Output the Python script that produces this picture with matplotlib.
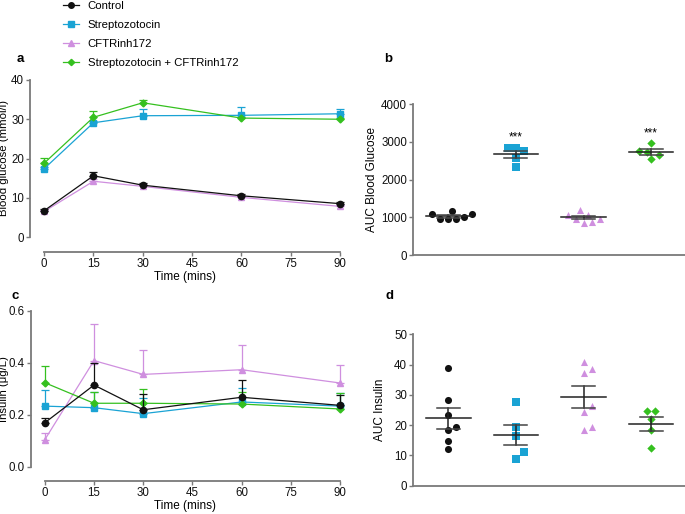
import numpy as np
import matplotlib
matplotlib.use("Agg")
import matplotlib.pyplot as plt
from matplotlib.lines import Line2D

plt.rcParams['font.family'] = ['Liberation Sans', 'DejaVu Sans']
plt.rcParams['font.size'] = 8

# ---- data ----
groups = ['Control', 'Streptozotocin', 'CFTRinh172', 'Streptozotocin + CFTRinh172']
colors = ['#111111', '#1aa3d4', '#cf8fdf', '#35c01f']
markers = ['o', 's', '^', 'D']

times = [0, 15, 30, 60, 90]

glucose_mean = [
    [6.7, 15.6, 13.2, 10.5, 8.5],
    [17.4, 29.1, 30.9, 31.0, 31.4],
    [6.5, 14.2, 12.9, 10.1, 7.8],
    [18.8, 30.5, 34.2, 30.3, 30.0],
]
glucose_sem = [
    [0.4, 0.9, 0.6, 0.5, 0.4],
    [0.5, 0.5, 1.8, 2.2, 1.3],
    [0.4, 0.5, 0.6, 0.5, 0.4],
    [1.4, 1.7, 0.7, 0.4, 0.3],
]

insulin_mean = [
    [0.169, 0.314, 0.219, 0.267, 0.236],
    [0.233, 0.227, 0.204, 0.249, 0.233],
    [0.104, 0.408, 0.355, 0.373, 0.322],
    [0.323, 0.244, 0.244, 0.241, 0.222],
]
insulin_sem = [
    [0.017, 0.085, 0.060, 0.067, 0.040],
    [0.062, 0.060, 0.060, 0.055, 0.050],
    [0.027, 0.140, 0.092, 0.095, 0.068],
    [0.063, 0.043, 0.056, 0.045, 0.060],
]

auc_glucose = [
    [1090, 950, 950, 1160, 950, 1000, 1090],
    [2840, 2750, 2850, 2570, 2330],
    [1070, 955, 860, 1190, 885, 945, 1070],
    [2735, 2550, 2980, 2650, 2770],
]
auc_insulin = [
    [38.9, 28.3, 23.2, 18.5, 19.5, 14.9, 12.2],
    [27.5, 19.5, 16.5, 11.1, 8.9],
    [41.0, 37.3, 38.5, 26.3, 24.5, 18.3, 19.5],
    [24.8, 24.6, 22.0, 18.3, 12.3],
]
signif = ['', '***', '', '***']

W, H = 685, 514
fig = plt.figure(figsize=(W / 100, H / 100), dpi=100)


def px_axes(l, t, r, b):
    return fig.add_axes([l / W, 1 - b / H, (r - l) / W, (b - t) / H])


axis_grey = '#7a7a7a'


def style(ax):
    for s in ['top', 'right']:
        ax.spines[s].set_visible(False)
    for s in ['left', 'bottom']:
        ax.spines[s].set_color(axis_grey)
        ax.spines[s].set_linewidth(1.3)
    ax.tick_params(colors=axis_grey, labelcolor='#111111', width=1.0, length=3,
                   labelsize=8.3, pad=1.2)


def time_panel(ax, means, sems, ymax, yticks, ylabel, fmt, offset_px, label_x):
    for i in range(4):
        m = np.array(means[i])
        e = np.array(sems[i])
        ax.errorbar(times, m, yerr=[np.zeros_like(e), e], color=colors[i],
                    marker=markers[i], markersize=4.5 if markers[i] != 'D' else 3.5,
                    lw=0.9, elinewidth=0.9, capsize=3, capthick=0.9, clip_on=False,
                    zorder=3 + (i == 0))
    ax.set_xlim(-4.3, 90)
    ax.set_ylim(0, ymax)
    ax.set_xticks([0, 15, 30, 45, 60, 75, 90])
    ax.set_yticks(yticks)
    ax.set_yticklabels([fmt % v for v in yticks])
    ax.spines['bottom'].set_position(('outward', offset_px * 0.72))
    ax.spines['bottom'].set_bounds(0, 90)
    ax.spines['left'].set_bounds(0, ymax)
    ax.set_xlabel('Time (mins)', fontsize=8.5, labelpad=1)
    ax.set_ylabel(ylabel, fontsize=8.2)
    ax.yaxis.set_label_coords(label_x, 0.5)


def swarm(ax, vals, center, diam_px):
    # simple beeswarm in pixel space
    to_px = ax.transData
    ypx = [to_px.transform((0, v))[1] for v in vals]
    xunit = to_px.transform((1, 0))[0] - to_px.transform((0, 0))[0]
    placed = []
    xs = [0.0] * len(vals)
    order = np.argsort(ypx)
    for k in order:
        y = ypx[k]
        for n in range(0, 20):
            cands = [0.0] if n == 0 else [n * diam_px * 0.5, -n * diam_px * 0.5]
            ok = None
            for c in cands:
                if all((c - px) ** 2 + (y - py) ** 2 >= diam_px ** 2 for px, py in placed):
                    ok = c
                    break
            if ok is not None:
                placed.append((ok, y))
                xs[k] = center + ok / xunit
                break
    return xs


def auc_panel(ax, data, ymax, yticks, ylabel, label_x, stars=None):
    ax.set_xlim(-0.52, 3.5)
    ax.set_ylim(0, ymax)
    fig.canvas.draw()
    for i, vals in enumerate(data):
        xs = swarm(ax, vals, i, 8)
        ax.scatter(xs, vals, marker=markers[i], color=colors[i],
                   s=26 if markers[i] != 'D' else 18, lw=0, zorder=3, clip_on=False)
        v = np.array(vals)
        mean = v.mean()
        sem = v.std(ddof=1) / np.sqrt(len(v))
        ax.plot([i - 0.33, i + 0.33], [mean, mean], color='#222222', lw=1.1, zorder=4)
        ax.plot([i, i], [mean - sem, mean + sem], color='#222222', lw=1.1, zorder=4)
        for y in (mean - sem, mean + sem):
            ax.plot([i - 0.17, i + 0.17], [y, y], color='#444444', lw=1.1, zorder=4)
        if stars and stars[i]:
            ax.text(i, v.max() + ymax * 0.025, stars[i], ha='center', va='bottom', fontsize=8.5)
    ax.set_xticks([])
    ax.set_yticks(yticks)
    ax.spines['left'].set_bounds(0, ymax)
    ax.set_ylabel(ylabel, fontsize=8.5)
    ax.yaxis.set_label_coords(label_x, 0.5)


ax_a = px_axes(30, 80, 340, 237)
style(ax_a)
time_panel(ax_a, glucose_mean, glucose_sem, 40, [0, 10, 20, 30, 40],
           'Blood glucose (mmol/l)', '%d', 14.7, (9.5 - 30) / 310)

ax_c = px_axes(30.7, 310.7, 340, 466.7)
style(ax_c)
time_panel(ax_c, insulin_mean, insulin_sem, 0.6, [0.0, 0.2, 0.4, 0.6],
           'Insulin (\u03bcg/L)', '%.1f', 14.3, (9.5 - 30.7) / 309.3)

ax_b = px_axes(413, 104.3, 685, 255)
style(ax_b)
auc_panel(ax_b, auc_glucose, 4000, [0, 1000, 2000, 3000, 4000], 'AUC Blood Glucose',
          (378 - 413) / 272, signif)

ax_d = px_axes(413, 334.3, 685, 485.7)
style(ax_d)
auc_panel(ax_d, auc_insulin, 50, [0, 10, 20, 30, 40, 50], 'AUC Insulin',
          (386 - 413) / 272)

# panel letters
for lab, x, y in [('a', 20, 59), ('b', 388, 59), ('c', 15, 296), ('d', 390, 296)]:
    fig.text(x / W, 1 - y / H, lab, fontsize=9.5, fontweight='bold', ha='center', va='center')

# legend
handles = [Line2D([0], [0], color=colors[i], marker=markers[i], lw=0.9,
                  markersize=4 if markers[i] != 'D' else 3.2) for i in range(4)]
fig.legend(handles, groups, loc='upper left', bbox_to_anchor=(58 / W, 1 + 4 / H),
           frameon=False, fontsize=8.2, handlelength=1.4, handletextpad=0.8,
           labelspacing=0.8, borderaxespad=0)

fig.savefig('out.png', dpi=100)
